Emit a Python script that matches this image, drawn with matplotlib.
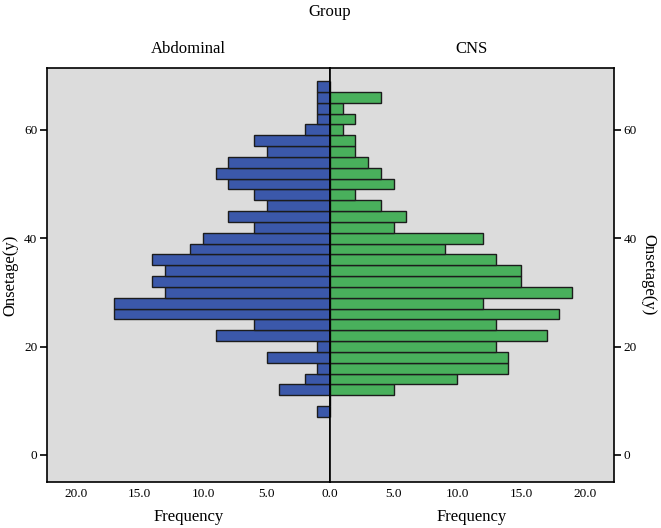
import matplotlib.pyplot as plt

plt.rcParams['font.family'] = 'Liberation Serif'

# Onset age bins (centres, width 2 years)
onset_age = [8, 10, 12, 14, 16, 18, 20, 22, 24, 26, 28, 30, 32, 34, 36, 38,
             40, 42, 44, 46, 48, 50, 52, 54, 56, 58, 60, 62, 64, 66, 68]
abdominal = [1, 0, 4, 2, 1, 5, 1, 9, 6, 17, 17, 13, 14, 13, 14, 11,
             10, 6, 8, 5, 6, 8, 9, 8, 5, 6, 2, 1, 1, 1, 1]
cns = [0, 0, 5, 10, 14, 14, 13, 17, 13, 18, 12, 19, 15, 15, 13, 9,
       12, 5, 6, 4, 2, 5, 4, 3, 2, 2, 1, 2, 1, 4, 0]
groups = ['Abdominal', 'CNS']

bg = '#dcdcdc'
blue = '#3b58aa'
green = '#49b05c'
edge = '#1c1c1c'

fig = plt.figure(figsize=(6.61, 5.28), dpi=100)
axl = fig.add_axes([47/661, 46/528, 283/661, 414/528])
axr = fig.add_axes([330/661, 46/528, 284/661, 414/528])

axl.barh(onset_age, abdominal, height=2, color=blue, edgecolor=edge, linewidth=1)
axr.barh(onset_age, cns, height=2, color=green, edgecolor=edge, linewidth=1)

for ax, ticks in ((axl, [0, 5, 10, 15, 20]), (axr, [5, 10, 15, 20])):
    ax.set_facecolor(bg)
    ax.set_xlim(0, 22.3)
    ax.set_ylim(-5.0, 71.4)
    ax.set_xticks(ticks)
    ax.set_xticklabels([f'{t:.1f}' for t in ticks], fontsize=9.5)
    ax.set_yticks([0, 20, 40, 60])
    ax.tick_params(axis='x', length=0, pad=4)
    ax.tick_params(axis='y', length=5, width=1.2, labelsize=9.5, pad=2)
    ax.set_xlabel('Frequency', fontsize=12, labelpad=7)
    for s in ax.spines.values():
        s.set_linewidth(1.2)

axl.invert_xaxis()
axr.yaxis.tick_right()
axr.yaxis.set_label_position('right')

axl.set_ylabel('Onsetage(y)', fontsize=12, labelpad=4)
axr.set_ylabel('Onsetage(y)', fontsize=12, rotation=270, labelpad=14)

axl.set_title(groups[0], fontsize=12, pad=11)
axr.set_title(groups[1], fontsize=12, pad=11)
fig.text(330/661, 1 - 12/528, 'Group', ha='center', va='center', fontsize=12)

fig.savefig('out.png', dpi=100)
